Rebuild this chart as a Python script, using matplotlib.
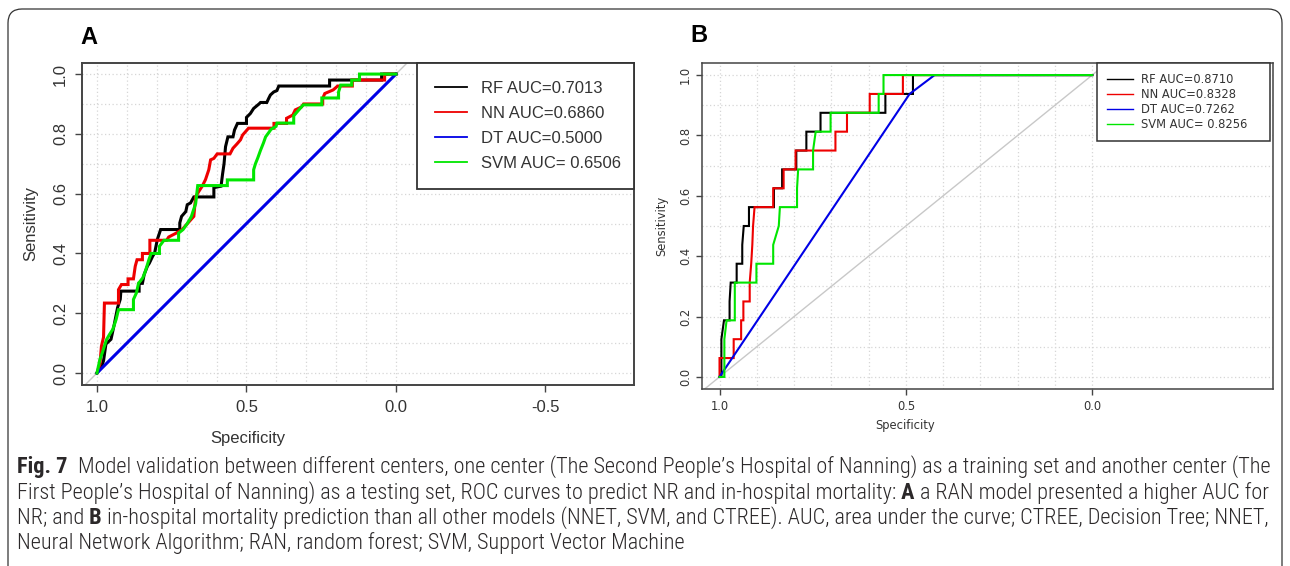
import matplotlib
matplotlib.use("Agg")
import matplotlib.pyplot as plt
import matplotlib.font_manager as fm
from matplotlib.lines import Line2D
from matplotlib.patches import FancyBboxPatch

# ---------------- data ----------------
series_names = ["RF", "NN", "DT", "SVM"]
series_colors = ["#000000", "#ee0000", "#0000e6", "#00e600"]

auc_a = ["0.7013", "0.6860", "0.5000", " 0.6506"]
auc_b = ["0.8710", "0.8328", "0.7262", " 0.8256"]

# Panel A (specificity, sensitivity) vertices
rf_a_spec = [1.000, 0.985, 0.978, 0.970, 0.953, 0.942, 0.931, 0.922, 0.920, 0.859, 0.859, 0.848,
             0.842, 0.831, 0.825, 0.814, 0.807, 0.798, 0.787, 0.723, 0.723, 0.717, 0.703, 0.698,
             0.687, 0.676, 0.609, 0.609, 0.585, 0.580, 0.575, 0.570, 0.562, 0.545, 0.540, 0.530,
             0.500, 0.500, 0.487, 0.476, 0.458, 0.453, 0.432, 0.426, 0.420, 0.409, 0.398, 0.392,
             0.222, 0.222, 0.048, 0.048, 0.000]
rf_a_sens = [0.000, 0.020, 0.041, 0.097, 0.113, 0.163, 0.219, 0.247, 0.274, 0.274, 0.300, 0.300,
             0.330, 0.358, 0.367, 0.390, 0.402, 0.447, 0.480, 0.480, 0.502, 0.524, 0.540, 0.563,
             0.569, 0.589, 0.589, 0.620, 0.625, 0.665, 0.700, 0.757, 0.790, 0.790, 0.813, 0.835,
             0.835, 0.855, 0.868, 0.885, 0.900, 0.905, 0.905, 0.918, 0.930, 0.940, 0.945, 0.960,
             0.960, 0.980, 0.980, 1.000, 1.000]

nn_a_spec = [1.000, 0.990, 0.985, 0.978, 0.975, 0.928, 0.928, 0.918, 0.896, 0.896, 0.878, 0.872,
             0.866, 0.848, 0.848, 0.823, 0.823, 0.767, 0.760, 0.735, 0.715, 0.700, 0.676, 0.670,
             0.659, 0.648, 0.637, 0.626, 0.620, 0.609, 0.598, 0.555, 0.545, 0.532, 0.520, 0.513,
             0.493, 0.408, 0.408, 0.366, 0.366, 0.345, 0.337, 0.316, 0.309, 0.245, 0.245, 0.238,
             0.210, 0.195, 0.146, 0.146, 0.038, 0.038, 0.000]
nn_a_sens = [0.000, 0.030, 0.090, 0.120, 0.234, 0.234, 0.279, 0.296, 0.296, 0.315, 0.315, 0.357,
             0.379, 0.379, 0.400, 0.400, 0.444, 0.444, 0.455, 0.468, 0.480, 0.497, 0.524, 0.590,
             0.608, 0.625, 0.647, 0.680, 0.713, 0.718, 0.733, 0.733, 0.752, 0.766, 0.780, 0.796,
             0.819, 0.819, 0.835, 0.835, 0.852, 0.863, 0.880, 0.890, 0.900, 0.900, 0.919, 0.935,
             0.947, 0.960, 0.960, 0.980, 0.980, 1.000, 1.000]

dt_a_spec = [1.0, 0.0]
dt_a_sens = [0.0, 1.0]

svm_a_spec = [1.000, 0.990, 0.982, 0.975, 0.968, 0.958, 0.947, 0.936, 0.928, 0.878, 0.878, 0.868,
              0.861, 0.847, 0.840, 0.833, 0.826, 0.819, 0.791, 0.791, 0.776, 0.727, 0.727, 0.712,
              0.698, 0.684, 0.677, 0.670, 0.663, 0.564, 0.564, 0.476, 0.476, 0.470, 0.462, 0.453,
              0.443, 0.436, 0.425, 0.418, 0.401, 0.398, 0.342, 0.342, 0.325, 0.310, 0.248, 0.248,
              0.192, 0.192, 0.185, 0.148, 0.148, 0.122, 0.122, 0.000]
svm_a_sens = [0.000, 0.046, 0.068, 0.090, 0.112, 0.129, 0.146, 0.179, 0.212, 0.212, 0.246, 0.268,
              0.300, 0.318, 0.335, 0.357, 0.380, 0.400, 0.400, 0.424, 0.444, 0.444, 0.468, 0.480,
              0.500, 0.524, 0.546, 0.566, 0.627, 0.627, 0.646, 0.646, 0.680, 0.700, 0.720, 0.745,
              0.770, 0.790, 0.805, 0.815, 0.825, 0.836, 0.836, 0.860, 0.880, 0.897, 0.897, 0.920,
              0.920, 0.940, 0.963, 0.963, 0.980, 0.980, 1.000, 1.000]

# Panel B (specificity, sensitivity) vertices
rf_b_spec = [1.000, 0.995, 0.995, 0.988, 0.973, 0.973, 0.970, 0.970, 0.954, 0.954, 0.939, 0.939,
             0.935, 0.921, 0.921, 0.854, 0.854, 0.832, 0.832, 0.794, 0.794, 0.767, 0.767, 0.729,
             0.729, 0.555, 0.555, 0.481, 0.481, 0.000]
rf_b_sens = [0.000, 0.000, 0.125, 0.1875, 0.1875, 0.250, 0.3125, 0.3125, 0.3125, 0.375, 0.375, 0.4375,
             0.500, 0.500, 0.5625, 0.5625, 0.625, 0.625, 0.6875, 0.6875, 0.750, 0.750, 0.8125, 0.8125,
             0.875, 0.875, 0.9375, 0.9375, 1.000, 1.000]

nn_b_spec = [1.000, 1.000, 0.962, 0.962, 0.942, 0.942, 0.936, 0.936, 0.919, 0.919, 0.915, 0.912,
             0.910, 0.906, 0.856, 0.856, 0.828, 0.828, 0.796, 0.796, 0.689, 0.689, 0.658, 0.658,
             0.597, 0.597, 0.508, 0.508, 0.000]
nn_b_sens = [0.000, 0.0625, 0.0625, 0.125, 0.125, 0.1875, 0.1875, 0.250, 0.250, 0.3125, 0.375, 0.4375,
             0.500, 0.5625, 0.5625, 0.625, 0.625, 0.6875, 0.6875, 0.750, 0.750, 0.8125, 0.8125, 0.875,
             0.875, 0.9375, 0.9375, 1.000, 1.000]

dt_b_spec = [1.000, 0.490, 0.423, 0.000]
dt_b_sens = [0.000, 0.9375, 1.000, 1.000]

svm_b_spec = [1.000, 0.987, 0.987, 0.981, 0.959, 0.959, 0.901, 0.901, 0.856, 0.856, 0.841, 0.838,
              0.792, 0.792, 0.789, 0.749, 0.749, 0.742, 0.702, 0.702, 0.573, 0.573, 0.560, 0.560,
              0.000]
svm_b_sens = [0.000, 0.000, 0.125, 0.1875, 0.1875, 0.3125, 0.3125, 0.375, 0.375, 0.4375, 0.500, 0.5625,
              0.5625, 0.625, 0.6875, 0.6875, 0.750, 0.8125, 0.8125, 0.875, 0.875, 0.9375, 0.9375, 1.000,
              1.000]

grid_vals = [0.0, 0.1, 0.2, 0.3, 0.4, 0.5, 0.6, 0.7, 0.8, 0.9, 1.0]
ytick_vals = [0.0, 0.2, 0.4, 0.6, 0.8, 1.0]
ytick_labels = ["0.0", "0.2", "0.4", "0.6", "0.8", "1.0"]
xtick_vals_a = [1.0, 0.5, 0.0, -0.5]
xtick_labels_a = ["1.0", "0.5", "0.0", "-0.5"]
xtick_vals_b = [1.0, 0.5, 0.0]
xtick_labels_b = ["1.0", "0.5", "0.0"]

caption_lines = [
    [("Fig. 7", True), ("  Model validation between different centers, one center (The Second People\u2019s Hospital of Nanning) as a training set and another center (The", False)],
    [("First People\u2019s Hospital of Nanning) as a testing set, ROC curves to predict NR and in-hospital mortality:", False), (" A", True), (" a RAN model presented a higher AUC for", False)],
    [("NR; and", False), (" B", True), (" in-hospital mortality prediction than all other models (NNET, SVM, and CTREE). AUC, area under the curve; CTREE, Decision Tree; NNET,", False)],
    [("Neural Network Algorithm; RAN, random forest; SVM, Support Vector Machine", False)],
]

# ---------------- figure ----------------
W, H, DPI = 1290, 566, 100
plt.rcParams["font.family"] = ["Liberation Sans", "DejaVu Sans"]
fig = plt.figure(figsize=(W / DPI, H / DPI), dpi=DPI)
fig.patch.set_facecolor("white")

FRAME = "#444444"
TXT = "#333333"
FONT_B = ["DejaVu Sans"]   # panel B image is horizontally stretched -> wider face


def fx(px):
    return px / W


def fy(py):
    return 1 - py / H


def make_axes(l, t, r, b):
    return fig.add_axes([fx(l), fy(b), (r - l) / W, (b - t) / H])


def setup(ax, xlim, ylim, xt, xtl, tick_fs, frame_lw, tick_len, xpad, ypad, family=None):
    ax.set_xlim(*xlim)
    ax.set_ylim(*ylim)
    for v in grid_vals:
        ax.axvline(v, color="#d6d6d6", lw=0.9, ls=(0, (1, 2)), zorder=0)
        ax.axhline(v, color="#d6d6d6", lw=0.9, ls=(0, (1, 2)), zorder=0)
    ax.axline((1, 0), (0, 1), color="#c8c8c8", lw=1.0, zorder=1)
    ax.set_xticks(xt)
    ax.set_xticklabels(xtl)
    ax.set_yticks(ytick_vals)
    ax.set_yticklabels(ytick_labels, rotation=90, va="center")
    ax.tick_params(length=tick_len, width=1.0, color=FRAME, labelsize=tick_fs, labelcolor=TXT)
    ax.tick_params(axis="x", pad=xpad)
    ax.tick_params(axis="y", pad=ypad)
    if family:
        for lab in ax.get_xticklabels() + ax.get_yticklabels():
            lab.set_family(family)
    for s in ax.spines.values():
        s.set_color(FRAME)
        s.set_linewidth(frame_lw)


# Panel A
axA = make_axes(82, 63, 634, 385)
setup(axA, (1.050, -0.796), (-0.040, 1.037), xtick_vals_a, xtick_labels_a, 12, 1.4, 5, 6, 5)
curves_a = [(rf_a_spec, rf_a_sens), (nn_a_spec, nn_a_sens), (dt_a_spec, dt_a_sens), (svm_a_spec, svm_a_sens)]
for (sx, sy), c in zip(curves_a, series_colors):
    axA.plot(sx, sy, color=c, lw=2.2, zorder=3, solid_joinstyle="miter")
handlesA = [Line2D([], [], color=c, lw=1.3) for c in series_colors]
labelsA = [f"{n} AUC={a}" for n, a in zip(series_names, auc_a)]
legA = axA.legend(handlesA, labelsA, loc="upper left",
                  bbox_to_anchor=((417 - 82) / 552, 0, 217 / 552, 1.0), mode="expand",
                  borderaxespad=0, fancybox=False, framealpha=1, edgecolor="#333333",
                  fontsize=12, handlelength=1.9, handletextpad=0.85, labelspacing=0.6,
                  borderpad=1.08)
legA.get_frame().set_linewidth(1.3)
for t in legA.get_texts():
    t.set_color(TXT)

fig.text(fx(248), fy(438), "Specificity", fontsize=12, ha="center", va="center", color=TXT)
fig.text(fx(31), fy(224), "Sensitivity", fontsize=12, ha="center", va="center", rotation=90, color=TXT)
fig.text(fx(89), fy(37), "A", fontsize=17, fontweight="bold", ha="center", va="center")

# Panel B
axB = make_axes(702, 63, 1273, 389)
setup(axB, (1.047, -0.485), (-0.040, 1.040), xtick_vals_b, xtick_labels_b, 8.3, 1.1, 4, 4, 3,
      family=FONT_B)
curves_b = [(rf_b_spec, rf_b_sens), (nn_b_spec, nn_b_sens), (dt_b_spec, dt_b_sens), (svm_b_spec, svm_b_sens)]
for (sx, sy), c in zip(curves_b, series_colors):
    axB.plot(sx, sy, color=c, lw=1.5, zorder=3, solid_joinstyle="miter")
handlesB = [Line2D([], [], color=c, lw=1.0) for c in series_colors]
labelsB = [f"{n} AUC={a}" for n, a in zip(series_names, auc_b)]
legB = axB.legend(handlesB, labelsB, loc="upper left",
                  bbox_to_anchor=((1097 - 702) / 571, 0, 173 / 571, 1.0), mode="expand",
                  borderaxespad=0, fancybox=False, framealpha=1, edgecolor="#333333",
                  prop={"family": FONT_B, "size": 8.3}, handlelength=2.2, handletextpad=0.78,
                  labelspacing=0.17, borderpad=0.88)
legB.get_frame().set_linewidth(1.1)
for t in legB.get_texts():
    t.set_color(TXT)

fig.text(fx(905), fy(425), "Specificity", fontsize=8.3, family=FONT_B, ha="center", va="center", color=TXT)
fig.text(fx(662), fy(226), "Sensitivity", fontsize=8.3, family=FONT_B, ha="center", va="center",
         rotation=90, color=TXT)
fig.text(fx(699), fy(36), "B", fontsize=17, fontweight="bold", ha="center", va="center")

# outer rounded border
border = FancyBboxPatch((0.08, -0.4), 12.74, 5.97, boxstyle="round,pad=0,rounding_size=0.14",
                        transform=fig.dpi_scale_trans, fill=False, edgecolor="#333333", lw=0.9,
                        clip_on=False)
fig.patches.append(border)

# ---------------- caption ----------------
names = {f.name for f in fm.fontManager.ttflist}
cap_family = "Liberation Sans"
for cand in ["Liberation Sans Narrow", "Roboto Condensed", "Open Sans Condensed", "Noto Sans Condensed"]:
    if cand in names:
        cap_family = cand
        break
CAP_COLOR = "#2b2829"
renderer = fig.canvas.get_renderer()


def draw_line(pieces, x0, y, size):
    x = x0
    objs = []
    for txt, bold in pieces:
        t = fig.text(fx(x), fy(y), txt, fontsize=size, fontweight="bold" if bold else 300,
                     family=cap_family, color=CAP_COLOR, ha="left", va="center")
        objs.append(t)
        x = t.get_window_extent(renderer).x1
    return x, objs


end, tmp = draw_line(caption_lines[0], 17, 467, 10)
for t in tmp:
    t.remove()
cap_size = 10 * (1273 - 17) / (end - 17)
for line, yy in zip(caption_lines, [467, 493, 518, 543]):
    draw_line(line, 17, yy, cap_size)

fig.savefig("out.png", dpi=DPI, facecolor="white")
